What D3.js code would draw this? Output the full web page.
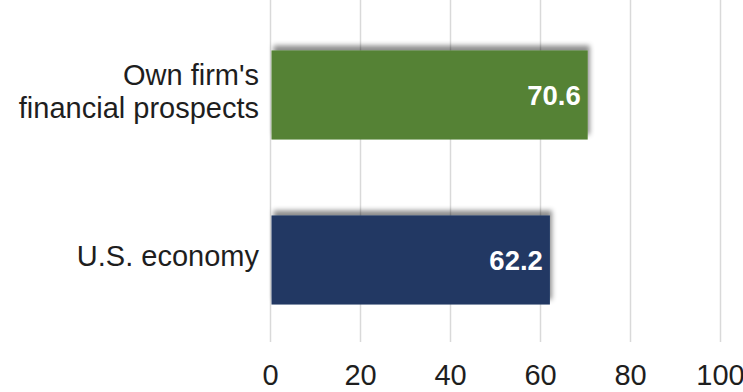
<!DOCTYPE html>
<html>
<head>
<meta charset="utf-8">
<script src="https://cdn.jsdelivr.net/npm/d3@7"></script>
<style>
  body { margin: 0; background: #fff; }
  svg { display: block; font-family: "Liberation Sans", Arial, sans-serif; }
</style>
</head>
<body>
<div id="chart"></div>
<script>
// chart values
const categories = ["Own firm's\nfinancial prospects", "U.S. economy"];
const values = [70.6, 62.2];
const barColors = ['#548235', '#203864'];
const xTicks = [0, 20, 40, 60, 80, 100];

const width = 743;
const height = 392;
const margin = { top: 0, right: 23, bottom: 50, left: 270 };

const svg = d3.select('#chart')
  .append('svg')
  .attr('width', width)
  .attr('height', height);

// soft shadow sitting above each bar
const defs = svg.append('defs');
const shadow = defs.append('filter')
  .attr('id', 'barShadow')
  .attr('x', '-5%').attr('y', '-30%')
  .attr('width', '115%').attr('height', '140%');
shadow.append('feDropShadow')
  .attr('dx', 2)
  .attr('dy', -5)
  .attr('stdDeviation', 2.5)
  .attr('flood-color', '#000')
  .attr('flood-opacity', 0.45);

const x = d3.scaleLinear()
  .domain([0, 100])
  .range([margin.left, 720]);

const y = d3.scaleBand()
  .domain(categories)
  .range([12.5, 342.5])
  .paddingInner(0.46)
  .paddingOuter(0.23);

// vertical gridlines
svg.append('g')
  .attr('class', 'grid')
  .selectAll('line')
  .data(xTicks)
  .enter().append('line')
  .attr('x1', d => x(d) + 0.5)
  .attr('x2', d => x(d) + 0.5)
  .attr('y1', 0)
  .attr('y2', 342)
  .attr('stroke', '#d9d9d9')
  .attr('stroke-width', 1.5);

// x axis labels
const xAxis = svg.append('g')
  .attr('class', 'x-axis')
  .attr('transform', 'translate(0,' + 342 + ')')
  .call(d3.axisBottom(x).tickValues(xTicks).tickSize(0).tickPadding(0));

xAxis.select('.domain').remove();
xAxis.selectAll('text')
  .attr('y', 43)
  .attr('dy', 0)
  .style('font-size', '29px')
  .style('font-family', '"Liberation Sans", Arial, sans-serif')
  .attr('fill', '#1e1e1e');

// bars
svg.selectAll('.bar')
  .data(categories)
  .enter().append('rect')
  .attr('class', 'bar')
  .attr('x', x(0) + 1.5)
  .attr('y', d => y(d))
  .attr('width', (d, i) => x(values[i]) - x(0) - 1.5)
  .attr('height', y.bandwidth())
  .attr('fill', (d, i) => barColors[i])
  .attr('filter', 'url(#barShadow)');

// value labels inside bar ends
svg.selectAll('.value')
  .data(categories)
  .enter().append('text')
  .attr('class', 'value')
  .attr('x', (d, i) => x(values[i]) - 7)
  .attr('y', d => y(d) + y.bandwidth() / 2 + 10)
  .attr('text-anchor', 'end')
  .style('font-size', '27.5px')
  .style('font-weight', 'bold')
  .attr('fill', '#ffffff')
  .text((d, i) => values[i].toFixed(1));

// category labels
const labels = svg.selectAll('.cat')
  .data(categories)
  .enter().append('text')
  .attr('class', 'cat')
  .attr('text-anchor', 'end')
  .style('font-size', '29px')
  .attr('fill', '#1e1e1e');

labels.each(function (d) {
  const lines = d.split('\n');
  const lineH = 33;
  const cy = y(d) + y.bandwidth() / 2;
  const first = cy - (lines.length - 1) * lineH / 2 + 6;
  d3.select(this).selectAll('tspan')
    .data(lines)
    .enter().append('tspan')
    .attr('x', 259)
    .attr('y', (l, i) => first + i * lineH)
    .text(l => l);
});
</script>
</body>
</html>
